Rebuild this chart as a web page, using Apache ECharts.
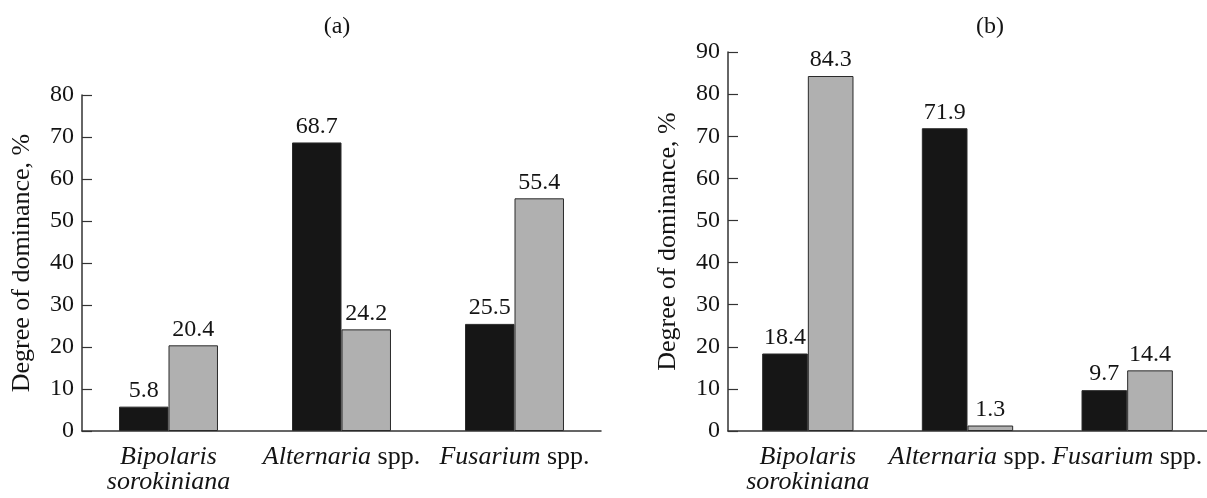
<!DOCTYPE html>
<html>
<head>
<meta charset="utf-8">
<script src="https://cdn.jsdelivr.net/npm/echarts@6/dist/echarts.min.js"></script>
<style>
  html, body { margin: 0; padding: 0; background: #fff; }
  #chart { width: 1207px; height: 498px; }
</style>
</head>
<body>
<div id="chart"></div>
<script>
const categories = ['Bipolaris sorokiniana', 'Alternaria spp.', 'Fusarium spp.'];
const catLabels = ['{i|Bipolaris}\n{i|sorokiniana}', '{i|Alternaria} spp.', '{i|Fusarium} spp.'];

// panel (a)
const aBlack = [5.8, 68.7, 25.5];
const aGray = [20.4, 24.2, 55.4];
const aTicks = { min: 0, max: 80, interval: 10 };

// panel (b)
const bBlack = [18.4, 71.9, 9.7];
const bGray = [84.3, 1.3, 14.4];
const bTicks = { min: 0, max: 90, interval: 10 };

const font = "'Liberation Serif', 'Times New Roman', serif";
const ink = '#141414';
const axisColor = '#333';

function xAxis(gridIndex) {
    return {
        type: 'category',
        gridIndex: gridIndex,
        data: categories,
        axisLine: { lineStyle: { color: axisColor, width: 1.5 } },
        axisTick: { inside: true, length: 10, lineStyle: { color: axisColor, width: 1.2 } },
        axisLabel: {
            margin: 14,
            color: ink,
            fontFamily: font,
            fontSize: 26,
            lineHeight: 25,
            interval: 0,
            formatter: (v, i) => catLabels[i],
            rich: {
                i: { fontStyle: 'italic', fontFamily: font, fontSize: 26, lineHeight: 25, color: ink }
            }
        }
    };
}

function yAxis(gridIndex, ticks) {
    return {
        type: 'value',
        gridIndex: gridIndex,
        min: ticks.min,
        max: ticks.max,
        interval: ticks.interval,
        name: 'Degree of dominance, %',
        nameLocation: 'middle',
        nameGap: 47,
        nameTextStyle: { color: ink, fontFamily: font, fontSize: 26 },
        axisLine: { show: true, lineStyle: { color: axisColor, width: 1.5 } },
        axisTick: { show: true, inside: true, length: 10, lineStyle: { color: axisColor, width: 1.2 } },
        axisLabel: { margin: 8, color: ink, fontFamily: font, fontSize: 24 },
        splitLine: { show: false }
    };
}

function bar(data, color, idx) {
    return {
        type: 'bar',
        xAxisIndex: idx,
        yAxisIndex: idx,
        data: data,
        barWidth: '28.6%',
        barGap: '0%',
        itemStyle: { color: color, borderColor: '#2a2a2a', borderWidth: 1 },
        label: {
            show: true,
            position: 'top',
            distance: 4,
            color: ink,
            fontFamily: font,
            fontSize: 24
        }
    };
}

const chart = echarts.init(document.getElementById('chart'));
chart.setOption({
    animation: false,
    backgroundColor: '#fff',
    title: [
        { text: '(a)', left: 332, top: 10, textAlign: 'center',
          textStyle: { fontFamily: font, fontSize: 24, fontWeight: 'normal', color: ink } },
        { text: '(b)', left: 985, top: 10, textAlign: 'center',
          textStyle: { fontFamily: font, fontSize: 24, fontWeight: 'normal', color: ink } }
    ],
    grid: [
        { left: 82, top: 95, width: 519, height: 336 },
        { left: 728, top: 52, width: 482, height: 379 }
    ],
    xAxis: [xAxis(0), xAxis(1)],
    yAxis: [yAxis(0, aTicks), yAxis(1, bTicks)],
    series: [
        bar(aBlack, '#161616', 0),
        bar(aGray, '#b0b0b0', 0),
        bar(bBlack, '#161616', 1),
        bar(bGray, '#b0b0b0', 1)
    ]
});
</script>
</body>
</html>
